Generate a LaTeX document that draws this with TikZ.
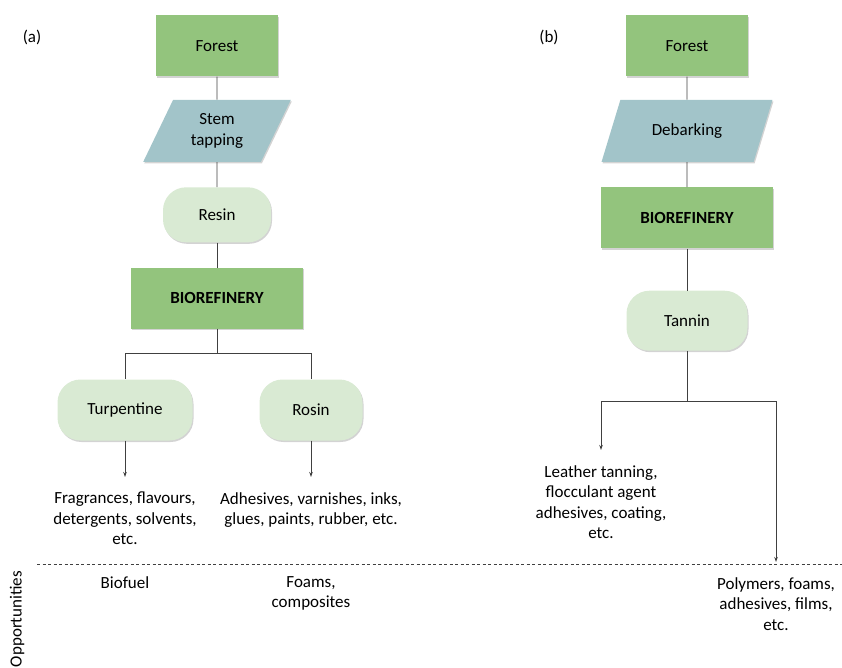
\documentclass[tikz,border=0pt]{standalone}
\usepackage{fontspec}
\setmainfont{Carlito}
\usetikzlibrary{positioning,shapes.geometric,arrows.meta,shadows}
\definecolor{boxgreen}{HTML}{93C47D}
\definecolor{boxblue}{HTML}{A2C4C9}
\definecolor{boxlight}{HTML}{D9EAD3}
\definecolor{linegray}{HTML}{404040}

\begin{document}
\begin{tikzpicture}[x=1pt, y=-1pt, font=\fontsize{17}{20.5}\selectfont,
  sh/.style={drop shadow={shadow xshift=1pt, shadow yshift=-1.5pt, opacity=.35, fill=gray}},
  g/.style={rectangle, fill=boxgreen, minimum height=61pt, sh},
  p/.style={trapezium, fill=boxblue, trapezium stretches=true, minimum height=62pt, align=center, sh},
  r/.style={rectangle, rounded corners=23pt, fill=boxlight, sh},
  t/.style={align=center, inner xsep=0pt, inner ysep=15pt},
  s/.style={draw=linegray, line width=.9pt},
  a/.style={s, -{Stealth[length=5pt, width=3.5pt]}}]
  \useasboundingbox (0,0) rectangle (842,668);

  % (a) resin route
  \node (labA) at (32,37) {(a)};
  \node[g, minimum width=122pt] (forestA) at (217,46) {Forest};
  \node[p, trapezium left angle=64, trapezium right angle=116, minimum width=149pt, below=23pt of forestA] (tapA) {Stem\\tapping};
  \node[r, minimum width=108pt, minimum height=55pt, below=25pt of tapA] (resin) {Resin};
  \node[g, minimum width=172pt, below=25pt of resin] (bioA) {\textbf{BIOREFINERY}};
  \coordinate (splitA) at (217,353);
  \node[r, minimum width=135pt, minimum height=61pt] (turp) at (125,410) {Turpentine};
  \node[r, minimum width=103pt, minimum height=61pt] (rosin) at (311,410) {Rosin};
  \node[t, anchor=north] (fragr) at (125,477) {Fragrances, flavours,\\detergents, solvents,\\etc.};
  \node[t, anchor=north] (adhes) at (311,477) {Adhesives, varnishes, inks,\\glues, paints, rubber, etc.};

  \path (forestA) edge[s] (tapA);
  \path (tapA) edge[s] (resin);
  \path (resin) edge[s] (bioA);
  \path (bioA) edge[s] (splitA);
  \draw[s] (splitA) -| (turp);
  \draw[s] (splitA) -| (rosin);
  \path (turp) edge[a] (fragr);
  \path (rosin) edge[a] (adhes);

  % (b) bark route
  \node (labB) at (549,37) {(b)};
  \node[g, minimum width=122pt] (forestB) at (687,46) {Forest};
  \node[p, trapezium left angle=63, trapezium right angle=117, minimum width=171pt, below=23pt of forestB] (debark) {Debarking};
  \node[g, minimum width=172pt, below=25pt of debark] (bioB) {\textbf{BIOREFINERY}};
  \node[r, minimum width=121pt, minimum height=60pt, below=42pt of bioB] (tannin) {Tannin};
  \coordinate (splitB) at (687,401);
  \node[t, anchor=north] (leather) at (601,450) {Leather tanning,\\flocculant agent\\adhesives, coating,\\etc.};
  \node[t, anchor=north] (polym) at (776,562) {Polymers, foams,\\adhesives, films,\\etc.};

  \path (forestB) edge[s] (debark);
  \path (debark) edge[s] (bioB);
  \path (bioB) edge[s] (tannin);
  \path (tannin) edge[s] (splitB);
  \draw[a] (splitB) -| (leather);
  \draw[a] (splitB) -| (polym);

  % opportunities
  \coordinate (dashL) at (37,564);
  \coordinate (dashR) at (842,564);
  \draw[linegray, line width=.8pt, dash pattern=on 3pt off 2.5pt] (dashL) -- (dashR);
  \node[rotate=90] (opp) at (17,619) {Opportunities};
  \node[t, anchor=north] (biofuel) at (125,561) {Biofuel};
  \node[t, anchor=north] (foams) at (311,561) {Foams,\\composites};
\end{tikzpicture}
\end{document}
